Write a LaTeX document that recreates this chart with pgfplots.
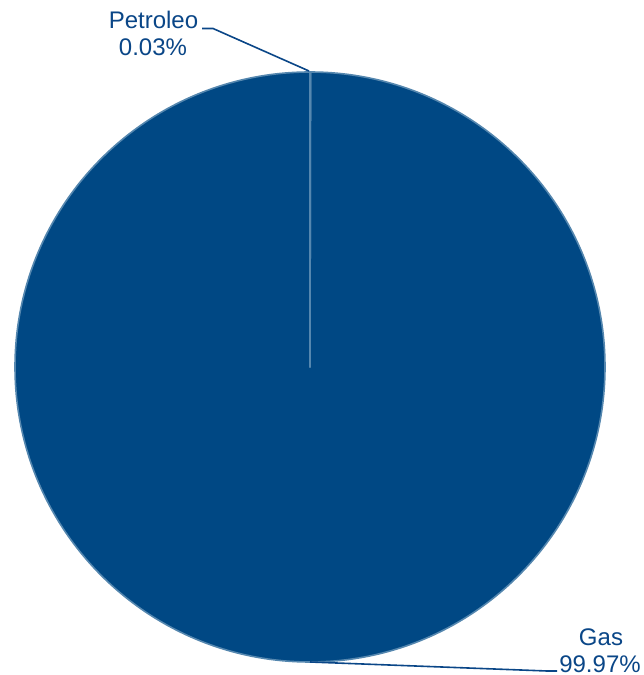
\documentclass[border=0pt]{standalone}
\usepackage{fontspec}
\setmainfont{Liberation Sans}
\usepackage{pgfplots}
\usepackage{pgfplotstable}
\pgfplotsset{compat=1.18}
\definecolor{piefill}{RGB}{0,72,132}
\definecolor{pieedge}{RGB}{85,135,175}
\definecolor{labelc}{RGB}{10,70,135}
\pgfplotstableread{
label value
Petroleo 0.03
Gas 99.97
}\piedata
\begin{document}
\begin{tikzpicture}
\pgfplotstablegetelem{0}{value}\of\piedata
\pgfmathsetmacro\vA{\pgfplotsretval}
\pgfplotstablegetelem{1}{value}\of\piedata
\pgfmathsetmacro\vB{\pgfplotsretval}
\pgfmathsetmacro\tot{\vA+\vB}
\pgfmathsetmacro\aStart{90}
\pgfmathsetmacro\aMid{90-\vA/\tot*360}
\pgfmathsetmacro\aEnd{90-360}
\begin{axis}[
  xmin=0, xmax=643, ymin=0, ymax=675,
  width=321.5pt, height=337.5pt, scale only axis,
  hide axis, clip=false]
\path (axis cs:0,0) rectangle (axis cs:643,675);
% Gas slice
\filldraw[fill=piefill, draw=pieedge, line width=0.8pt, line join=round]
  (axis cs:310,308) -- ++(\aMid:147.5pt) arc[start angle=\aMid, end angle=\aEnd, radius=147.5pt] -- cycle;
% Petroleo slice
\filldraw[fill=piefill, draw=pieedge, line width=0.8pt, line join=round]
  (axis cs:310,308) -- ++(\aStart:147.5pt) arc[start angle=\aStart, end angle=\aMid, radius=147.5pt] -- cycle;
% leader lines
\addplot[labelc, line width=0.8pt, no marks] coordinates {(202,646.5) (213,646.5) (309,604)};
\addplot[labelc, line width=0.8pt, no marks] coordinates {(310,13) (547,4) (557,4)};
% labels
\node[labelc, anchor=base, font=\fontsize{12}{13.5}\selectfont, inner sep=0pt] at (axis cs:153.5,646.5) {Petroleo};
\node[labelc, anchor=base, font=\fontsize{12}{13.5}\selectfont, inner sep=0pt] at (axis cs:153,619) {0.03\%};
\node[labelc, anchor=base, font=\fontsize{12}{13.5}\selectfont, inner sep=0pt] at (axis cs:601,30) {Gas};
\node[labelc, anchor=base, font=\fontsize{12}{13.5}\selectfont, inner sep=0pt] at (axis cs:600,3) {99.97\%};
\end{axis}
\end{tikzpicture}
\end{document}
